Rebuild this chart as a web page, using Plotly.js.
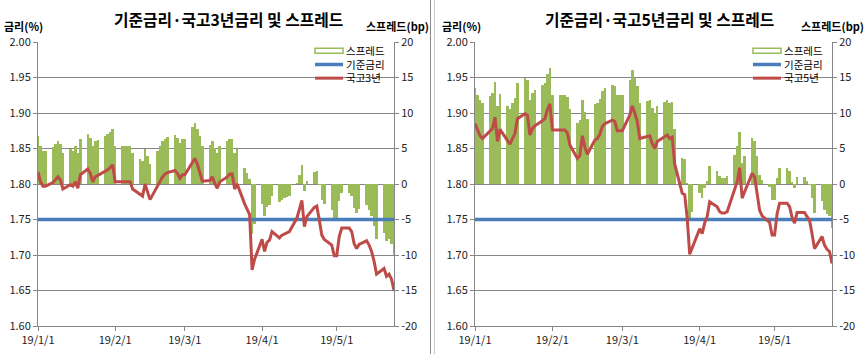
<!DOCTYPE html>
<html><head><meta charset="utf-8">
<script src="https://cdn.plot.ly/plotly-3.0.1.min.js"></script>
<style>html,body{margin:0;padding:0;background:#fff;} #chart{width:866px;height:354px;}</style>
</head><body><div id="chart"></div>
<script>
// ---- data ----
const dates = [
'2019-01-01','2019-01-02','2019-01-03','2019-01-04',
'2019-01-07','2019-01-08','2019-01-09','2019-01-10','2019-01-11',
'2019-01-14','2019-01-15','2019-01-16','2019-01-17','2019-01-18',
'2019-01-21','2019-01-22','2019-01-23','2019-01-24','2019-01-25',
'2019-01-28','2019-01-29','2019-01-30','2019-01-31','2019-02-01',
'2019-02-04','2019-02-05','2019-02-06','2019-02-07','2019-02-08',
'2019-02-11','2019-02-12','2019-02-13','2019-02-14','2019-02-15',
'2019-02-18','2019-02-19','2019-02-20','2019-02-21','2019-02-22',
'2019-02-25','2019-02-26','2019-02-27','2019-02-28','2019-03-01',
'2019-03-04','2019-03-05','2019-03-06','2019-03-07','2019-03-08',
'2019-03-11','2019-03-12','2019-03-13','2019-03-14','2019-03-15',
'2019-03-18','2019-03-19','2019-03-20','2019-03-21','2019-03-22',
'2019-03-25','2019-03-26','2019-03-27','2019-03-28','2019-03-29',
'2019-04-01','2019-04-02','2019-04-03','2019-04-04','2019-04-05',
'2019-04-08','2019-04-09','2019-04-10','2019-04-11','2019-04-12',
'2019-04-15','2019-04-16','2019-04-17','2019-04-18','2019-04-19',
'2019-04-22','2019-04-23','2019-04-24','2019-04-25','2019-04-26',
'2019-04-29','2019-04-30','2019-05-01','2019-05-02','2019-05-03',
'2019-05-06','2019-05-07','2019-05-08','2019-05-09','2019-05-10',
'2019-05-13','2019-05-14','2019-05-15','2019-05-16','2019-05-17',
'2019-05-20','2019-05-21','2019-05-22','2019-05-23','2019-05-24'
];
const tickVals = ['2019-01-01','2019-02-01','2019-03-01','2019-04-01','2019-05-01'];
const tickText = ['19/1/1','19/2/1','19/3/1','19/4/1','19/5/1'];
const rateTicks = [1.60,1.65,1.70,1.75,1.80,1.85,1.90,1.95,2.00];
const spreadTicks = [-20,-15,-10,-5,0,5,10,15,20];

const baseRateDates = ['2019-01-01','2019-05-24'];
const baseRate = [1.75, 1.75];

const ktb3y = [
1.817,1.803,1.797,1.797,
1.802,1.806,1.810,1.806,1.793,
1.799,1.797,1.803,1.794,1.813,
1.821,1.815,1.803,1.810,1.812,
1.817,1.820,1.823,1.827,1.803,
1.803,1.803,1.803,1.803,1.793,
1.785,1.783,1.800,1.790,1.778,
1.797,1.804,1.810,1.814,1.816,
1.819,1.815,1.808,1.813,1.813,
1.830,1.836,1.828,1.817,1.804,
1.805,1.810,1.801,1.794,1.803,
1.810,1.814,1.814,1.793,1.800,
1.772,1.765,1.757,1.679,1.694,
1.722,1.705,1.718,1.721,1.733,
1.724,1.728,1.730,1.731,1.733,
1.752,1.763,1.777,1.740,1.754,
1.767,1.769,1.749,1.728,1.722,
1.714,1.699,1.699,1.726,1.738,
1.738,1.733,1.716,1.709,1.715,
1.720,1.714,1.705,1.691,1.673,
1.681,1.670,1.673,1.666,1.650
];
const spread3y = [
6.7,5.3,4.7,4.7,
5.2,5.6,6.0,5.6,4.3,
4.9,4.7,5.3,4.4,6.3,
7.1,6.5,5.3,6.0,6.2,
6.7,7.0,7.3,7.7,5.3,
5.3,5.3,5.3,5.3,4.3,
3.5,3.3,5.0,4.0,2.8,
4.7,5.4,6.0,6.4,6.6,
6.9,6.5,5.8,6.3,6.3,
8.0,8.6,7.8,6.7,5.4,
5.5,6.0,5.1,4.4,5.3,
6.0,6.4,6.4,4.3,5.0,
2.2,1.5,0.7,-7.1,-5.6,
-2.8,-4.5,-3.2,-2.9,-1.7,
-2.6,-2.2,-2.0,-1.9,-1.7,
0.2,1.3,2.7,-1.0,0.4,
1.7,1.9,-0.1,-2.2,-2.8,
-3.6,-5.1,-5.1,-2.4,-1.2,
-1.2,-1.7,-3.4,-4.1,-3.5,
-3.0,-3.6,-4.5,-5.9,-7.7,
-6.9,-8.0,-7.7,-8.4,-10.0
];
const ktb5y = [
1.885,1.876,1.868,1.864,
1.874,1.878,1.894,1.860,1.877,
1.860,1.856,1.864,1.871,1.892,
1.899,1.897,1.869,1.878,1.882,
1.889,1.892,1.905,1.913,1.876,
1.876,1.876,1.876,1.872,1.855,
1.836,1.840,1.868,1.852,1.842,
1.862,1.864,1.870,1.881,1.885,
1.890,1.888,1.875,1.875,1.875,
1.897,1.910,1.900,1.888,1.864,
1.867,1.868,1.857,1.850,1.860,
1.866,1.869,1.864,1.866,1.828,
1.787,1.785,1.752,1.701,1.710,
1.737,1.730,1.745,1.754,1.775,
1.768,1.761,1.759,1.759,1.761,
1.791,1.803,1.823,1.780,1.789,
1.815,1.810,1.789,1.763,1.755,
1.746,1.728,1.728,1.758,1.773,
1.773,1.768,1.753,1.745,1.760,
1.760,1.754,1.749,1.730,1.709,
1.726,1.714,1.708,1.705,1.688
];
const spread5y = [
13.5,12.6,11.8,11.4,
12.4,12.8,14.4,11.0,12.7,
11.0,10.6,11.4,12.1,14.2,
14.9,14.7,11.9,12.8,13.2,
13.9,14.2,15.5,16.3,12.6,
12.6,12.6,12.6,12.2,10.5,
8.6,9.0,11.8,10.2,9.2,
11.2,11.4,12.0,13.1,13.5,
14.0,13.8,12.5,12.5,12.5,
14.7,16.0,15.0,13.8,11.4,
11.7,11.8,10.7,10.0,11.0,
11.6,11.9,11.4,11.6,7.8,
3.7,3.5,0.2,-4.9,-4.0,
-1.3,-2.0,-0.5,0.4,2.5,
1.8,1.1,0.9,0.9,1.1,
4.1,5.3,7.3,3.0,3.9,
6.5,6.0,3.9,1.3,0.5,
-0.4,-2.2,-2.2,0.8,2.3,
2.3,1.8,0.3,-0.5,1.0,
1.0,0.4,-0.1,-2.0,-4.1,
-2.4,-3.6,-4.2,-4.5,-6.2
];
const titles = ['기준금리·국고3년금리 및 스프레드','기준금리·국고5년금리 및 스프레드'];
const legend3 = ['스프레드','기준금리','국고3년'];
const legend5 = ['스프레드','기준금리','국고5년'];
const rateAxisTitle = '금리(%)';
const spreadAxisTitle = '스프레드(bp)';

// ---- styling ----
const GREEN = '#9BBB59', BLUE = '#4A7EBB', RED = '#BE4B48', GRID = '#868686';
const FONT = 'Noto Sans CJK KR, Noto Sans, sans-serif';
const W = 866, H = 354, ML = 38, MR = 34, MT = 42, MB = 28;
const PW = W - ML - MR, PH = H - MT - MB;
const px = p => (p - ML) / PW;
const py = p => 1 - (p - MT) / PH;
const DAY = 86400000;

function barTrace(y, xa, ya) {
  return {type:'bar', x: dates, y: y, xaxis: xa, yaxis: ya, width: DAY*1.0,
    marker:{color: GREEN, line:{width:0}}, showlegend:false, hoverinfo:'skip'};
}
function lineTrace(x, y, xa, ya, color, w) {
  return {type:'scatter', mode:'lines', x: x, y: y, xaxis: xa, yaxis: ya,
    line:{color: color, width: w}, showlegend:false, hoverinfo:'skip'};
}
const traces = [
  barTrace(spread3y, 'x', 'y'),
  lineTrace(baseRateDates, baseRate, 'x', 'y2', BLUE, 3.5),
  lineTrace(dates, ktb3y, 'x', 'y2', RED, 3),
  barTrace(spread5y, 'x2', 'y3'),
  lineTrace(baseRateDates, baseRate, 'x2', 'y4', BLUE, 3.5),
  lineTrace(dates, ktb5y, 'x2', 'y4', RED, 3)
];

function xAxis(domain, anchor) {
  return {domain: domain, anchor: anchor, type:'date', range:['2019-01-01','2019-05-24'],
    tickvals: tickVals, ticktext: tickText, ticks:'outside', ticklen:4, tickcolor: GRID,
    showline:true, linecolor: GRID, linewidth:1, showgrid:false, zeroline:false,
    tickfont:{size:11, color:'#222', family: FONT}, fixedrange:true};
}
function spreadAxis(anchor) {
  return {anchor: anchor, side:'right', range:[-20,20], tickvals: spreadTicks,
    ticktext: spreadTicks.map(String), ticks:'outside', ticklen:4, tickcolor: GRID,
    showline:true, linecolor: GRID, showgrid:true, gridcolor: GRID, gridwidth:1,
    zeroline:false, tickfont:{size:11, color:'#222', family: FONT}, fixedrange:true};
}
function rateAxis(anchor, over) {
  return {anchor: anchor, overlaying: over, side:'left', range:[1.60,2.00], tickvals: rateTicks,
    tickformat:'.2f', ticks:'outside', ticklen:4, tickcolor: GRID,
    showline:true, linecolor: GRID, showgrid:false, zeroline:false,
    tickfont:{size:11, color:'#222', family: FONT}, fixedrange:true};
}

const leftX0 = 38, leftX1 = 394, rightX0 = 475, rightX1 = 832;
const annotations = [], shapes = [];
function addPanelText(title, cx, legendNames, legSymX, rateTitleX, spreadTitleX) {
  annotations.push({text: '<b>' + title + '</b>', xref:'paper', yref:'paper', x: px(cx), y: py(19),
    xanchor:'center', yanchor:'middle', showarrow:false, borderpad:0, font:{size:15.8, family: FONT, color:'#000'}});
  annotations.push({text: '<b>' + rateAxisTitle + '</b>', xref:'paper', yref:'paper', x: px(rateTitleX), y: py(25.5),
    xanchor:'left', yanchor:'middle', showarrow:false, borderpad:0, font:{size:11, family: FONT, color:'#000'}});
  annotations.push({text: '<b>' + spreadAxisTitle + '</b>', xref:'paper', yref:'paper', x: px(spreadTitleX), y: py(25.5),
    xanchor:'left', yanchor:'middle', showarrow:false, borderpad:0, font:{size:11, family: FONT, color:'#000'}});
  const fs = 10.5, lh = fs * 1.3, midRow = 64.5;
  const rows = [midRow - lh, midRow, midRow + lh];
  annotations.push({text: legendNames.join('<br>'), xref:'paper', yref:'paper', x: px(legSymX + 30), y: py(midRow),
    xanchor:'left', yanchor:'middle', align:'left', showarrow:false, borderpad:0,
    font:{size: fs, family: FONT, color:'#000'}});
  shapes.push({type:'rect', xref:'paper', yref:'paper', x0: px(legSymX), x1: px(legSymX + 28),
    y0: py(rows[0] + 2.5), y1: py(rows[0] - 2.5), line:{color: GREEN, width:1.5}, fillcolor:'#fff'});
  shapes.push({type:'line', xref:'paper', yref:'paper', x0: px(legSymX), x1: px(legSymX + 28),
    y0: py(rows[1]), y1: py(rows[1]), line:{color: BLUE, width:3.5}});
  shapes.push({type:'line', xref:'paper', yref:'paper', x0: px(legSymX), x1: px(legSymX + 28),
    y0: py(rows[2]), y1: py(rows[2]), line:{color: RED, width:3}});
}
addPanelText(titles[0], 228, legend3, 315, 3, 365);
addPanelText(titles[1], 659, legend5, 753, 441, 800);
// separators between the two chart boxes
shapes.push({type:'line', xref:'paper', yref:'paper', x0: px(430.5), x1: px(430.5), y0: py(0), y1: py(354), line:{color:'#8a8a8a', width:1}});
shapes.push({type:'line', xref:'paper', yref:'paper', x0: px(434.5), x1: px(434.5), y0: py(0), y1: py(354), line:{color:'#c8c8c8', width:1}});

const layout = {
  width: W, height: H, margin:{l: ML, r: MR, t: MT, b: MB, pad:0},
  paper_bgcolor:'#fff', plot_bgcolor:'#fff', showlegend:false, bargap:0,
  font:{family: FONT, size:11, color:'#222'},
  xaxis: xAxis([px(leftX0), px(leftX1)], 'y'),
  yaxis: spreadAxis('x'),
  yaxis2: rateAxis('x', 'y'),
  xaxis2: xAxis([px(rightX0), px(rightX1)], 'y3'),
  yaxis3: spreadAxis('x2'),
  yaxis4: rateAxis('x2', 'y3'),
  annotations: annotations, shapes: shapes
};
Plotly.newPlot('chart', traces, layout, {staticPlot:true, displayModeBar:false});
</script></body></html>
